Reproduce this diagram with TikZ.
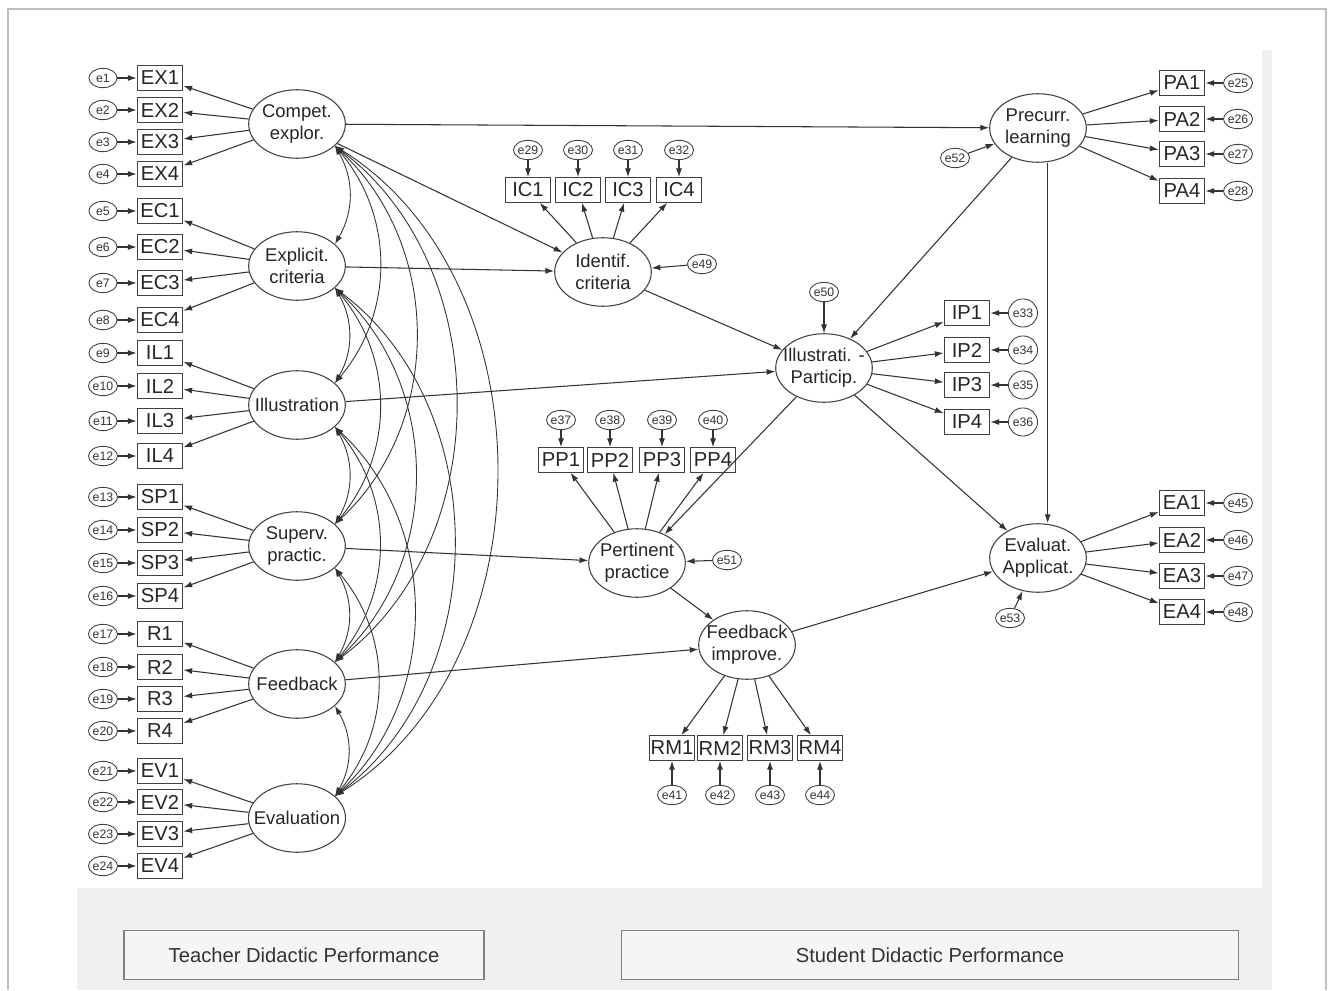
\documentclass[tikz,border=0pt]{standalone}
\usepackage{fontspec}
\setmainfont{Liberation Sans}
\usetikzlibrary{shapes.geometric,arrows.meta}

\tikzset{
  latent/.style={ellipse, draw=black!75, line width=0.6pt, minimum width=55pt, minimum height=39pt,
    inner xsep=-5pt, inner ysep=0pt, align=center, font=\fontsize{10.5}{12.5}\selectfont, text=black!85},
  ind/.style={rectangle, draw=black!75, line width=0.6pt, minimum width=26pt, minimum height=14pt,
    inner sep=0pt, font=\fontsize{11.5}{12}\selectfont, text=black!85},
  err/.style={ellipse, draw=black!75, line width=0.5pt, minimum width=16pt, minimum height=11pt,
    inner sep=0pt, font=\fontsize{7}{7}\selectfont, text=black!80},
  errc/.style={err, minimum height=16pt},
  lnk/.style={->, draw=black!80, line width=0.6pt},
  cov/.style={<->, draw=black!80, line width=0.5pt},
  panel/.style={draw=black!50, fill=gray!8, line width=0.8pt, minimum height=28pt,
    font=\fontsize{11.5}{13}\selectfont, text=black!80}
}

\begin{document}
\begin{tikzpicture}[x=0.02cm, y=-0.02cm, >={Latex[length=5pt,width=3.4pt]}]
    \useasboundingbox (0,0) rectangle (1331,990);

    % Background and frame
    \fill[gray!12] (77,50) rectangle (1272,990);
    \fill[white] (77,50) rectangle (1262,888);
    \draw[gray!50, line width=0.8pt] (8,990) -- (8,9) -- (1326,9) -- (1326,990);

    % Teacher factors
    \node[latent] (cex) at (297,124) {Compet.\\explor.};
    \node[latent] (exc) at (297,266) {Explicit.\\criteria};
    \node[latent] (ill) at (297,405) {Illustration};
    \node[latent] (sup) at (297,546) {Superv.\\practic.};
    \node[latent] (fdb) at (297,684) {Feedback};
    \node[latent] (evl) at (297,818) {Evaluation};

    % Student factors
    \node[latent] (idc) at (603,272) {Identif.\\criteria};
    \node[latent] (ipa) at (824,368) {Illustrati. -\\Particip.};
    \node[latent] (ppr) at (637,563) {Pertinent\\practice};
    \node[latent] (fim) at (747,645) {Feedback\\improve.};
    \node[latent] (pre) at (1038,128) {Precurr.\\learning};
    \node[latent] (eap) at (1038,558) {Evaluat.\\Applicat.};

    % Disturbances
    \node[err] (e49) at (702,264) {e49};
    \node[err] (e50) at (824,292) {e50};
    \node[err] (e51) at (727,560) {e51};
    \node[err] (e52) at (955,158) {e52};
    \node[err] (e53) at (1010,618) {e53};
    \draw[lnk] (e49) -- (idc);
    \draw[lnk] (e50) -- (ipa);
    \draw[lnk] (e51) -- (ppr);
    \draw[lnk] (e52) -- (pre);
    \draw[lnk] (e53) -- (eap);

    % Left indicators
    \foreach \lab/\y [count=\i] in {EX1/78,EX2/110,EX3/142,EX4/174,EC1/211,EC2/247,EC3/283,EC4/320,
        IL1/353,IL2/386,IL3/421,IL4/456,SP1/497,SP2/530,SP3/563,SP4/596,
        R1/634,R2/667,R3/699,R4/731,EV1/771,EV2/802,EV3/834,EV4/866} {
      \node[ind] (\lab) at (160,\y) {\lab};
      \node[err] (e\i) at (103,\y) {e\i};
      \draw[lnk] (e\i) -- (\lab);
    }
    \foreach \f/\p in {cex/EX,exc/EC,ill/IL,sup/SP,fdb/R,evl/EV}
      \foreach \k in {1,...,4}
        \draw[lnk] (\f) -- (\p\k);

    % Identif. criteria indicators
    \foreach \x [count=\k] in {528,578,628,679} {
      \pgfmathtruncatemacro{\n}{28+\k}
      \node[ind] (IC\k) at (\x,190) {IC\k};
      \node[err] (e\n) at (\x,150) {e\n};
      \draw[lnk] (e\n) -- (IC\k);
      \draw[lnk] (idc) -- (IC\k);
    }

    % Pertinent practice indicators
    \foreach \x [count=\k] in {561,610,662,713} {
      \pgfmathtruncatemacro{\n}{36+\k}
      \node[ind] (PP\k) at (\x,460) {PP\k};
      \node[err] (e\n) at (\x,420) {e\n};
      \draw[lnk] (e\n) -- (PP\k);
      \draw[lnk] (ppr) -- (PP\k);
    }

    % Feedback improve. indicators
    \foreach \x [count=\k] in {672,720,770,820} {
      \pgfmathtruncatemacro{\n}{40+\k}
      \node[ind] (RM\k) at (\x,748) {RM\k};
      \node[err] (e\n) at (\x,795) {e\n};
      \draw[lnk] (e\n) -- (RM\k);
      \draw[lnk] (fim) -- (RM\k);
    }

    % Illustrati. - Particip. indicators
    \foreach \y [count=\k] in {313,350,385,422} {
      \pgfmathtruncatemacro{\n}{32+\k}
      \node[ind] (IP\k) at (967,\y) {IP\k};
      \node[errc] (e\n) at (1023,\y) {e\n};
      \draw[lnk] (e\n) -- (IP\k);
      \draw[lnk] (ipa) -- (IP\k);
    }

    % Precurr. learning indicators
    \foreach \y [count=\k] in {83,119,154,191} {
      \pgfmathtruncatemacro{\n}{24+\k}
      \node[ind] (PA\k) at (1182,\y) {PA\k};
      \node[err] (e\n) at (1238,\y) {e\n};
      \draw[lnk] (e\n) -- (PA\k);
      \draw[lnk] (pre) -- (PA\k);
    }

    % Evaluat. Applicat. indicators
    \foreach \y [count=\k] in {503,540,576,612} {
      \pgfmathtruncatemacro{\n}{44+\k}
      \node[ind] (EA\k) at (1182,\y) {EA\k};
      \node[err] (e\n) at (1238,\y) {e\n};
      \draw[lnk] (e\n) -- (EA\k);
      \draw[lnk] (eap) -- (EA\k);
    }

    % Structural paths
    \draw[lnk] (cex) -- (pre);
    \draw[lnk] (cex) -- (idc);
    \draw[lnk] (exc) -- (idc);
    \draw[lnk] (ill) -- (ipa);
    \draw[lnk] (sup) -- (ppr);
    \draw[lnk] (fdb) -- (fim);
    \draw[lnk] (idc) -- (ipa);
    \draw[lnk] (pre) -- (ipa);
    \draw[lnk] ([xshift=5.5pt]pre.south) -- ([xshift=5.5pt]eap.north);
    \draw[lnk] (ipa) -- (ppr);
    \draw[lnk] (ipa) -- (eap);
    \draw[lnk] (ppr) -- (fim);
    \draw[lnk] (fim) -- (eap);

    % Covariances between teacher factors
    \foreach \a/\b/\ang in {cex/exc/30,cex/ill/40,cex/sup/47,cex/fdb/53,cex/evl/58,
        exc/ill/30,exc/sup/40,exc/fdb/47,exc/evl/53,
        ill/sup/30,ill/fdb/40,ill/evl/47,
        sup/fdb/30,sup/evl/40,
        fdb/evl/30}
      \draw[cov] (\a.-30) to[bend left=\ang] (\b.30);

    % Group labels
    \node[panel, minimum width=205pt] (tdp) at (304,955) {Teacher Didactic Performance};
    \node[panel, minimum width=351pt] (sdp) at (930,955) {Student Didactic Performance};
\end{tikzpicture}
\end{document}
